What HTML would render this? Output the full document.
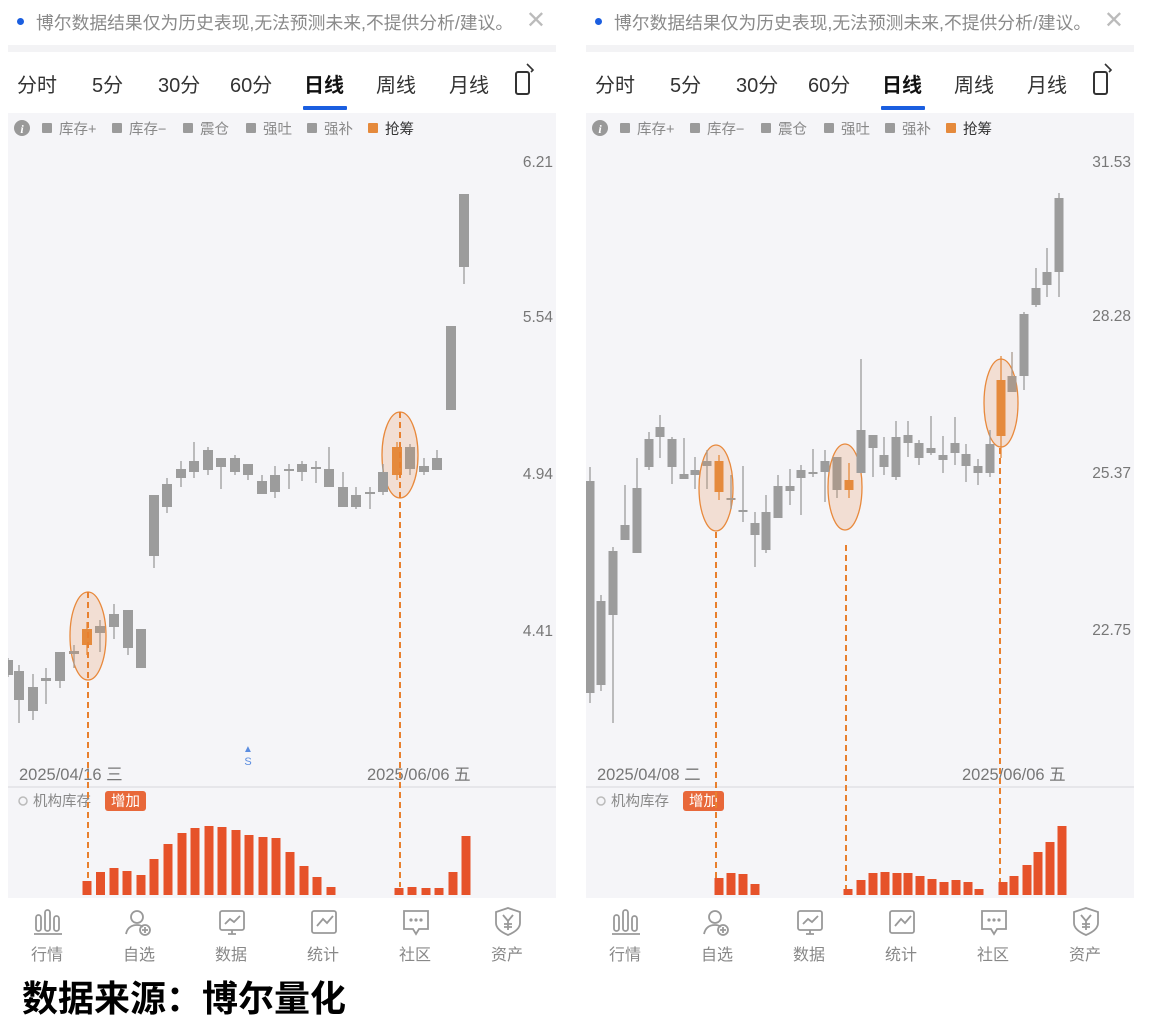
<!DOCTYPE html>
<html><head><meta charset="utf-8">
<style>
body{margin:0;width:1154px;height:1024px;background:#fff;position:relative;overflow:hidden;font-family:"Liberation Sans","Noto Sans CJK SC",sans-serif;}
.p{position:absolute;top:0;width:548px;height:965px;}
.ban{position:absolute;left:0;top:0;width:100%;height:45px;font-size:17.8px;color:#8a8a8a;}
.ban .dot{position:absolute;left:9px;top:18px;width:7px;height:7px;border-radius:50%;background:#1a5ee0;}
.ban .t{position:absolute;left:28px;top:9px;white-space:nowrap;}
.ban .x{position:absolute;right:10px;top:6px;font-size:24px;color:#bbb;}
.strip{position:absolute;left:0;top:45px;width:100%;height:7px;background:#f3f3f5;}
.tabs{position:absolute;left:0;top:69px;font-size:20px;color:#333;}
.tabs span{position:absolute;white-space:nowrap;top:0;}
.ul{position:absolute;top:106px;height:4px;width:44px;background:#1a5ee0;border-radius:1px;}
.chart{position:absolute;left:0;top:113px;width:100%;height:785px;background:#f5f5f8;}
.nav{position:absolute;left:0;top:898px;width:100%;height:67px;font-size:16px;color:#888;}
.nav div{position:absolute;top:43px;width:60px;text-align:center;}
svg{position:absolute;left:0;top:0;}
.src{position:absolute;left:22px;top:970px;font-size:36px;font-weight:bold;color:#000;font-family:"Liberation Sans","Noto Sans CJK SC",sans-serif;}
</style></head><body>
<div class="p" id="L" style="left:8px"></div>
<div class="p" id="R" style="left:586px"></div>
<div class="src">数据来源：博尔量化</div>
<script>
function panel(id,cfg){
 var el=document.getElementById(id), ox=cfg.ox;
 var h='<div class="ban"><div class="dot"></div><div class="t">博尔数据结果仅为历史表现,无法预测未来,不提供分析/建议。</div><div class="x">✕</div></div><div class="strip"></div>';
 h+='<div class="chart"></div>';
 h+='<div class="tabs">';
 var tabs=[['分时',9],['5分',84],['30分',150],['60分',222],['日线',296],['周线',368],['月线',441]];
 tabs.forEach(function(t){h+='<span style="left:'+t[1]+'px;'+(t[0]=='日线'?'font-weight:bold;color:#111':'')+'">'+t[0]+'</span>';});
 h+='</div><div class="ul" style="left:295px"></div>';
 h+='<div class="nav">';
 var nv=[['行情',9],['自选',101],['数据',193],['统计',285],['社区',377],['资产',469]];
 nv.forEach(function(n){h+='<div style="left:'+n[1]+'px">'+n[0]+'</div>';});
 h+='</div>';
 var s='<svg width="548" height="965" xmlns="http://www.w3.org/2000/svg">';
 s+='<rect x="508" y="72" width="13" height="22" rx="2" fill="none" stroke="#333" stroke-width="2"/><path d="M519 64 l6 6 l-2 2" fill="none" stroke="#333" stroke-width="1.6"/>';
 s+='<circle cx="14" cy="128" r="8" fill="#999"/><text x="14" y="133" font-size="12" font-style="italic" font-weight="bold" fill="#fff" text-anchor="middle" font-family="Liberation Serif">i</text>';
 var lg=[['库存+',34],['库存−',104],['震仓',175],['强吐',238],['强补',299],['抢筹',360]];
 lg.forEach(function(l,i){s+='<rect x="'+l[1]+'" y="123" width="10" height="10" rx="1" fill="'+(i==5?'#e58a3c':'#9b9b9b')+'"/><text x="'+(l[1]+17)+'" y="134" font-size="14.5" fill="'+(i==5?'#333':'#888')+'">'+l[0]+'</text>';});
 cfg.yl.forEach(function(y){s+='<text x="'+cfg.yx+'" y="'+(y[1]+5)+'" font-size="15.5" fill="#777" text-anchor="end">'+y[0]+'</text>';});
 s+='<text x="11" y="780" font-size="16.5" fill="#777">'+cfg.d1+'</text><text x="'+cfg.d2x+'" y="780" font-size="16.5" fill="#777">2025/06/06 五</text>';
 s+='<line x1="0" y1="787" x2="548" y2="787" stroke="#e2e2e6" stroke-width="1.5"/>';
 s+='<circle cx="15" cy="801" r="4" fill="none" stroke="#bbb" stroke-width="1.5"/><text x="25" y="806" font-size="14.5" fill="#888">机构库存</text>';
 s+='<rect x="97" y="791" width="41" height="20" rx="3" fill="#e8683a"/><text x="117.5" y="806" font-size="14.5" fill="#fff" text-anchor="middle">增加</text>';
 if(cfg.s) s+='<text x="240" y="752" font-size="10" fill="#5b8de0" text-anchor="middle">▲</text><text x="240" y="765" font-size="11" fill="#5b8de0" text-anchor="middle">S</text>';
 cfg.el.forEach(function(e){s+='<ellipse cx="'+(e[0]-ox)+'" cy="'+e[1]+'" rx="'+e[2]+'" ry="'+e[3]+'" fill="rgba(232,140,80,0.22)" stroke="#e8893c" stroke-width="1.3"/>';});
 cfg.c.forEach(function(c){var col=c[5]=='o'?'#e58a3c':(c[5]=='b'?'#a99a8e':'#9c9c9c');var x=c[0]-ox;
  s+='<line x1="'+x+'" y1="'+c[3]+'" x2="'+x+'" y2="'+c[4]+'" stroke="'+col+'" stroke-width="1.3"/>';
  s+='<rect x="'+(x-cfg.w/2)+'" y="'+c[1]+'" width="'+cfg.w+'" height="'+Math.max(2,c[2]-c[1])+'" fill="'+col+'"/>';});
 cfg.dl.forEach(function(d){s+='<line x1="'+(d[0]-ox)+'" y1="'+d[1]+'" x2="'+(d[0]-ox)+'" y2="'+d[2]+'" stroke="#e8802e" stroke-width="2" stroke-dasharray="6,4"/>';});
 cfg.b.forEach(function(b){s+='<rect x="'+(b[0]-ox-4.5)+'" y="'+(895-b[1])+'" width="9" height="'+b[1]+'" fill="#e6522a"/>';});
 s+='<g fill="none" stroke="#999" stroke-width="1.8">';
 s+='<rect x="28" y="915" width="5" height="16" rx="2.5"/><rect x="37" y="910" width="5" height="21" rx="2.5"/><rect x="46" y="916" width="5" height="15" rx="2.5"/><line x1="26" y1="934" x2="54" y2="934"/>';
 s+='<circle cx="129" cy="917" r="6"/><path d="M118 934 q2 -9 11 -9 q4 0 6 2"/><circle cx="137" cy="930" r="5"/><path d="M137 927v6M134 930h6"/>';
 s+='<rect x="212" y="911" width="24" height="19" rx="2"/><path d="M217 924l5-5 4 3 6-6M220 934h8M224 930v4"/>';
 s+='<rect x="304" y="911" width="24" height="22" rx="2"/><path d="M309 926l6-7 4 4 6-7"/>';
 s+='<path d="M396 911h24v18h-9l-3 5-3-5h-9z"/>';
 s+='<path d="M500 908l12 4v11q0 7-12 12q-12-5-12-12v-11z"/><path d="M495 915l5 6 5-6M500 921v9M496 924h8M496 927h8"/>';
 s+='</g><g fill="#999"><circle cx="403" cy="920" r="1.6"/><circle cx="408" cy="920" r="1.6"/><circle cx="413" cy="920" r="1.6"/></g>';
 s+='</svg>';
 el.innerHTML=h+s;
}
var Lc=[[8,660,675,658,677,'g'],[19,671,700,665,723,'g'],[33,687,711,674,720,'g'],[46,678,681,668,704,'g'],[60,652,681,652,688,'g'],[74,651,654,645,668,'b'],[87,629,645,622,655,'o'],[100,626,633,620,652,'b'],[114,614,627,604,639,'g'],[128,610,648,610,655,'g'],[141,629,668,629,668,'g'],[154,495,556,495,568,'g'],[167,484,507,478,513,'g'],[181,469,478,461,487,'g'],[194,461,472,442,478,'g'],[208,450,470,447,475,'g'],[221,458,467,458,489,'g'],[235,458,472,455,475,'g'],[248,464,475,464,480,'g'],[262,481,494,475,494,'g'],[275,475,492,466,498,'g'],[289,469,471,464,489,'g'],[302,464,472,461,481,'g'],[316,467,469,461,483,'g'],[329,469,487,447,487,'g'],[343,487,507,472,507,'g'],[356,495,507,487,509,'g'],[370,492,493,487,509,'g'],[383,472,492,464,495,'g'],[397,447,475,442,480,'o'],[410,447,469,444,475,'b'],[424,466,472,458,475,'g'],[437,458,470,450,470,'g'],[451,326,410,326,410,'g'],[464,194,267,194,284,'g']];
var Lb=[[87,14],[100.5,23],[114,27],[127,24],[141,20],[154,36],[168,51],[182,62],[195,67],[209,69],[222,68],[236,65],[249,60],[263,58],[276,57],[290,43],[304,29],[317,18],[331,8],[399,7],[412,8],[426,7],[439,7],[453,23],[466,59]];
panel('L',{ox:8,w:10,c:Lc,b:Lb,yx:545,yl:[['6.21',162],['5.54',317],['4.94',474],['4.41',631]],d1:'2025/04/16 三',d2x:359,s:true,
 el:[[88,636,18,44],[400,455,18,43]],dl:[[88,592,880],[400,412,887]]});
var Rc=[[590,481,693,467,703,'g'],[601,601,685,595,691,'g'],[613,551,615,547,723,'g'],[625,525,540,485,540,'g'],[637,488,553,458,553,'g'],[649,439,467,432,470,'g'],[660,427,437,415,458,'g'],[672,439,467,437,484,'g'],[684,474,479,438,479,'g'],[695,470,475,457,489,'g'],[707,461,466,450,489,'b'],[719,461,492,455,500,'o'],[731,498,500,475,509,'b'],[743,510,512,466,522,'g'],[755,523,535,512,567,'g'],[766,512,550,495,553,'g'],[778,486,518,475,518,'g'],[790,486,491,469,505,'g'],[801,470,478,465,515,'g'],[813,472,474,449,477,'g'],[825,461,472,450,502,'g'],[837,457,490,457,498,'b'],[849,480,490,463,498,'o'],[861,430,473,359,473,'g'],[873,435,448,435,477,'g'],[884,455,467,437,475,'g'],[896,437,477,421,480,'g'],[908,435,443,421,457,'g'],[919,443,458,440,465,'g'],[931,448,453,416,455,'g'],[943,455,460,436,473,'g'],[955,443,453,417,465,'g'],[966,454,466,444,482,'g'],[978,466,473,459,485,'g'],[990,444,473,430,477,'g'],[1001,380,436,356,458,'o'],[1012,376,392,352,392,'b'],[1024,314,376,312,390,'g'],[1036,288,305,268,307,'g'],[1047,272,285,248,297,'g'],[1059,198,272,193,297,'g']];
var Rb=[[719,17],[731,22],[743,21],[755,11],[848,6],[861,15],[873,22],[885,23],[897,22],[908,22],[920,19],[932,16],[944,13],[956,15],[968,13],[979,6],[1003,13],[1014,19],[1027,30],[1038,43],[1050,53],[1062,69]];
panel('R',{ox:586,w:9,c:Rc,b:Rb,yx:545,yl:[['31.53',162],['28.28',316],['25.37',473],['22.75',630]],d1:'2025/04/08 二',d2x:376,s:false,
 el:[[716,488,17,43],[845,487,17,43],[1001,403,17,44]],dl:[[716,532,880],[846,545,890],[1000,448,882]]});
</script>
</body></html>
